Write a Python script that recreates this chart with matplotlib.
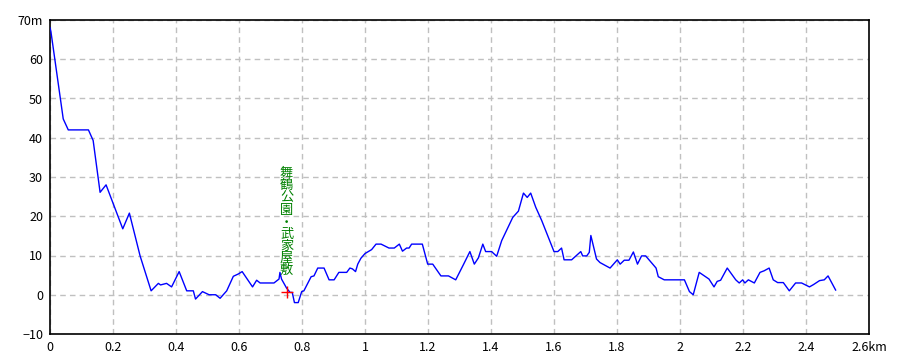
import matplotlib
matplotlib.use("Agg")
import matplotlib.pyplot as plt

plt.rcParams["font.family"] = ["Noto Sans CJK JP", "DejaVu Sans"]

# elevation profile (km, m)
dist_km = [0, 0.003, 0.042, 0.058, 0.122, 0.137, 0.159, 0.178, 0.231, 0.252,
           0.286, 0.321, 0.344, 0.351, 0.370, 0.386, 0.410, 0.434, 0.455, 0.462,
           0.484, 0.505, 0.526, 0.540, 0.561, 0.582, 0.598, 0.610, 0.643, 0.656,
           0.667, 0.711, 0.727, 0.730, 0.735, 0.751, 0.762, 0.769, 0.776, 0.788,
           0.799, 0.806, 0.829, 0.838, 0.850, 0.870, 0.886, 0.902, 0.917, 0.942,
           0.952, 0.960, 0.970, 0.977, 0.987, 1.000, 1.021, 1.035, 1.051, 1.076,
           1.093, 1.109, 1.119, 1.132, 1.140, 1.148, 1.182, 1.199, 1.215, 1.241,
           1.265, 1.288, 1.312, 1.333, 1.347, 1.360, 1.374, 1.383, 1.402, 1.418,
           1.434, 1.469, 1.487, 1.503, 1.515, 1.526, 1.542, 1.561, 1.600, 1.612,
           1.624, 1.632, 1.656, 1.685, 1.691, 1.704, 1.712, 1.717, 1.735, 1.746,
           1.778, 1.801, 1.810, 1.823, 1.838, 1.852, 1.865, 1.878, 1.891, 1.924,
           1.931, 1.950, 2.014, 2.030, 2.042, 2.061, 2.092, 2.108, 2.118, 2.129,
           2.150, 2.177, 2.188, 2.199, 2.206, 2.217, 2.236, 2.254, 2.267, 2.283,
           2.296, 2.310, 2.328, 2.347, 2.367, 2.386, 2.411, 2.424, 2.443, 2.458,
           2.470, 2.494]
elev_m = [68, 67, 44.8, 42, 42, 39.3, 26.1, 28, 16.8, 20.8,
          9.9, 1.0, 2.9, 2.5, 2.9, 2.0, 5.9, 1.0, 1.0, -1.1,
          0.8, 0, 0, -0.9, 1.0, 4.7, 5.3, 5.9, 2.0, 3.7,
          3.0, 3.0, 4.0, 5.7, 4.0, 1.7, 0.6, 0.6, -2.0, -2.0,
          0.8, 1.0, 4.6, 4.8, 6.8, 6.8, 3.8, 3.8, 5.7, 5.7,
          6.8, 6.6, 5.9, 7.8, 9.3, 10.5, 11.5, 12.9, 12.9, 11.9,
          11.9, 12.9, 11.1, 11.9, 11.9, 12.9, 12.9, 7.8, 7.8, 4.8,
          4.8, 3.8, 7.6, 11.0, 7.8, 9.4, 12.9, 11.0, 11.0, 9.8,
          13.8, 19.7, 21.3, 25.9, 24.8, 25.9, 22.3, 18.9, 11.0, 11.0,
          11.9, 8.9, 8.9, 11.0, 9.9, 9.9, 10.8, 15.1, 9.1, 8.2,
          6.8, 8.9, 7.8, 8.8, 8.8, 10.9, 7.8, 9.9, 9.9, 6.8,
          4.6, 3.8, 3.8, 0.8, 0, 5.7, 4.0, 2.0, 3.4, 3.7,
          6.8, 3.8, 3.0, 3.8, 3.0, 3.8, 3.0, 5.7, 6.1, 6.8,
          3.8, 3.1, 3.1, 1.0, 3.0, 3.0, 2.0, 2.6, 3.6, 3.8,
          4.8, 1.2]

# waypoint
spot_km = 0.751
spot_m = 0.8
spot_name = "舞鶴公園・武家屋敷"

x_ticks = [0, 0.2, 0.4, 0.6, 0.8, 1, 1.2, 1.4, 1.6, 1.8, 2, 2.2, 2.4, 2.6]
x_labels = ["0", "0.2", "0.4", "0.6", "0.8", "1", "1.2", "1.4", "1.6", "1.8",
            "2", "2.2", "2.4", "2.6km"]
y_ticks = [-10, 0, 10, 20, 30, 40, 50, 60, 70]
y_labels = ["\u221210", "0", "10", "20", "30", "40", "50", "60", "70m"]

W, H = 910, 364
fig = plt.figure(figsize=(W / 100, H / 100), dpi=100)
ax = fig.add_axes([50 / W, (H - 334) / H, 819 / W, 314 / H])

ax.plot(dist_km, elev_m, color="#0000ff", linewidth=1.0, zorder=3)

ax.plot([spot_km], [spot_m], marker="+", color="#ff0000", markersize=9,
        markeredgewidth=1.0, linestyle="none", zorder=4)
for i, ch in enumerate(reversed(spot_name)):
    ax.annotate(ch, xy=(spot_km, spot_m), xytext=(0, 21 + 12.1 * i),
                textcoords="offset pixels", ha="center", va="center",
                fontsize=9.5, color="#008000", zorder=5)

ax.set_xlim(0, 2.6)
ax.set_ylim(-10, 70)
ax.set_xticks(x_ticks)
ax.set_xticklabels(x_labels)
ax.set_yticks(y_ticks)
ax.set_yticklabels(y_labels)
ax.tick_params(length=0, labelsize=9, pad=5, colors="black")

ax.grid(True, color="#c0c0c0", linestyle=(0, (4, 3)), linewidth=1.0)
ax.set_axisbelow(True)
for s in ax.spines.values():
    s.set_color("black")
    s.set_linewidth(1.2)

fig.savefig("out.png", dpi=100, facecolor="white")
